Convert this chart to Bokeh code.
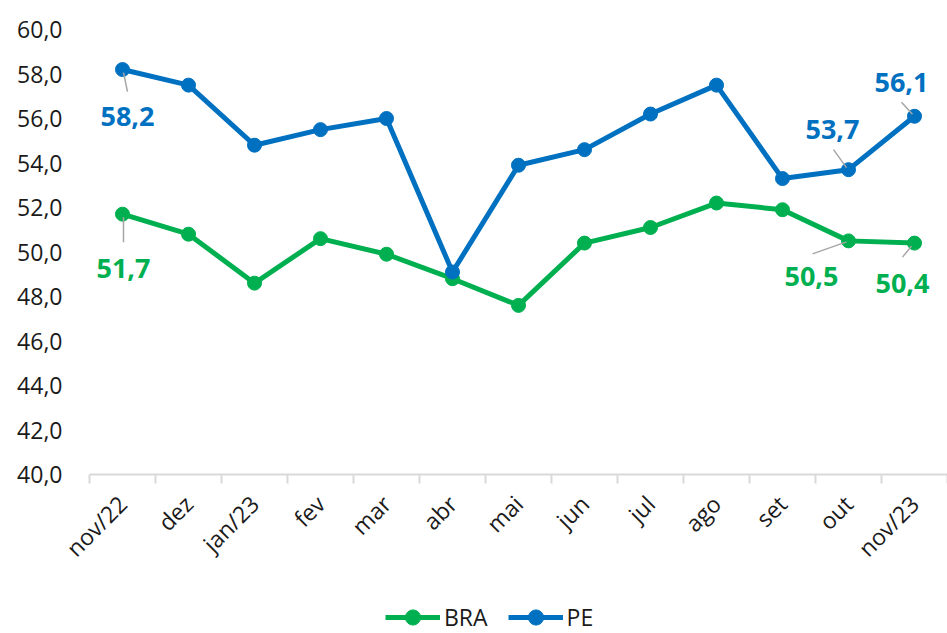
from math import pi
from bokeh.plotting import figure
from bokeh.layouts import column
from bokeh.models import FixedTicker, Legend, LegendItem, ColumnDataSource, Range1d
from bokeh.core.properties import value
from bokeh.embed import file_html
from bokeh.resources import INLINE

# ---- data ----
months = ["nov/22", "dez", "jan/23", "fev", "mar", "abr", "mai", "jun", "jul", "ago", "set", "out", "nov/23"]
bra = [51.7, 50.8, 48.6, 50.6, 49.9, 48.8, 47.6, 50.4, 51.1, 52.2, 51.9, 50.5, 50.4]
pe = [58.2, 57.5, 54.8, 55.5, 56.0, 49.1, 53.9, 54.6, 56.2, 57.5, 53.3, 53.7, 56.1]
y_ticks = [40, 42, 44, 46, 48, 50, 52, 54, 56, 58, 60]
series_names = ["BRA", "PE"]

# which points carry a data label
label_series = ["PE", "BRA", "PE", "PE", "BRA", "BRA"]
label_index = [0, 0, 11, 12, 11, 12]

# ---- styling ----
BLUE = "#0070C0"
GREEN = "#00B050"
FONT = "Open Sans"
TXT = "#1a1a1a"
W, H_MAIN, H_LEG = 947, 585, 48
BL, BR, BT, BB = 89, 0, 29, 111
frame_w = W - BL - BR
frame_h = H_MAIN - BT - BB
PX_X = frame_w / len(months)       # pixels per category
PX_Y = frame_h / (y_ticks[-1] - y_ticks[0])

# label offsets (px, screen) and leader line offsets (px) per labelled point
lab_dx = [5, 1, -16, -13, -37, -12]
lab_dy = [47, 54, -40, -34, 36, 40]
lead_from = [(1, 3), (1, 3), (-2, -2), (-2, -2), (-2, 1), (-3, 3)]
lead_to = [(5, 22), (1, 28), (-15, -20), (-13, -14), (-36, 13), (-12, 14)]

p = figure(width=W, height=H_MAIN, output_backend="svg", toolbar_location=None,
           x_range=Range1d(-0.5, len(months) - 0.5), y_range=Range1d(y_ticks[0], y_ticks[-1]),
           min_border_left=BL, min_border_right=BR, min_border_top=BT, min_border_bottom=BB)
p.outline_line_color = None
p.xgrid.visible = False
p.ygrid.visible = False
p.background_fill_color = "white"
p.border_fill_color = "white"

xs = list(range(len(months)))

# y axis
p.yaxis.ticker = FixedTicker(ticks=y_ticks)
p.yaxis.major_label_overrides = {t: f"{t:.1f}".replace(".", ",") for t in y_ticks}
p.yaxis.axis_line_color = None
p.yaxis.major_tick_line_color = None
p.yaxis.minor_tick_line_color = None
p.yaxis.major_tick_out = 0
p.yaxis.major_label_standoff = 27
p.yaxis.major_label_text_font = FONT
p.yaxis.major_label_text_font_size = "23px"
p.yaxis.major_label_text_color = TXT

# x axis
p.xaxis.ticker = FixedTicker(ticks=xs, minor_ticks=[i - 0.5 for i in xs] + [len(months) - 0.5])
p.xaxis.major_label_overrides = {i: m for i, m in enumerate(months)}
p.xaxis.major_label_orientation = pi / 4
p.xaxis.axis_line_color = "#d9d9d9"
p.xaxis.axis_line_width = 2
p.xaxis.major_tick_line_color = None
p.xaxis.minor_tick_line_color = "#d9d9d9"
p.xaxis.minor_tick_line_width = 2
p.xaxis.minor_tick_in = 0
p.xaxis.minor_tick_out = 9
p.xaxis.major_tick_in = 0
p.xaxis.major_tick_out = 0
p.xaxis.major_label_standoff = 16
p.xaxis.major_label_text_font = FONT
p.xaxis.major_label_text_font_size = "23px"
p.xaxis.major_label_text_color = TXT

# series
p.line(xs, bra, line_color=GREEN, line_width=5)
p.scatter(xs, bra, size=14, fill_color=GREEN, line_color=GREEN)
p.line(xs, pe, line_color=BLUE, line_width=5)
p.scatter(xs, pe, size=14, fill_color=BLUE, line_color=BLUE)

# data labels and leader lines
series = {"PE": (pe, BLUE), "BRA": (bra, GREEN)}
lx, ly, lt, lc = [], [], [], []
sx0, sy0, sx1, sy1 = [], [], [], []
for k, (s, i) in enumerate(zip(label_series, label_index)):
    vals, col = series[s]
    v = vals[i]
    lx.append(i); ly.append(v); lc.append(col)
    lt.append(f"{v:.1f}".replace(".", ","))
    (fx, fy), (tx, ty) = lead_from[k], lead_to[k]
    sx0.append(i + fx / PX_X); sy0.append(v - fy / PX_Y)
    sx1.append(i + tx / PX_X); sy1.append(v - ty / PX_Y)

p.segment(sx0, sy0, sx1, sy1, line_color="#a6a6a6", line_width=1.5)
src = ColumnDataSource(dict(x=lx, y=ly, text=lt, color=lc, dx=lab_dx, dy=lab_dy))
p.text(x="x", y="y", text="text", source=src, text_color="color",
       x_offset="dx", y_offset="dy", text_align="center", text_baseline="middle",
       text_font=value(FONT), text_font_style="bold", text_font_size="27px")

# legend strip (separate small figure whose frame holds the legend)
pl = figure(width=W, height=H_LEG, output_backend="svg", toolbar_location=None,
            x_axis_type=None, y_axis_type=None, x_range=Range1d(0, 1), y_range=Range1d(0, 1),
            min_border=0, min_border_left=0, min_border_right=0, min_border_top=0, min_border_bottom=0)
pl.outline_line_color = None
pl.xgrid.visible = False
pl.ygrid.visible = False
nan = float("nan")
items = []
for name, col in zip(series_names, [GREEN, BLUE]):
    r1 = pl.line([nan], [nan], line_color=col, line_width=5)
    r2 = pl.scatter([nan], [nan], size=14, fill_color=col, line_color=col)
    items.append(LegendItem(label=name, renderers=[r1, r2]))
legend = Legend(items=items, orientation="horizontal", location=(296, -3),
                glyph_width=55, glyph_height=38, label_standoff=4, spacing=20,
                padding=0, margin=0, border_line_color=None, background_fill_alpha=0,
                label_text_font=FONT, label_text_font_size="23px", label_text_color=TXT)
pl.add_layout(legend, "center")

layout = column(p, pl, spacing=0)
open("out.html", "w").write(file_html(layout, INLINE))
